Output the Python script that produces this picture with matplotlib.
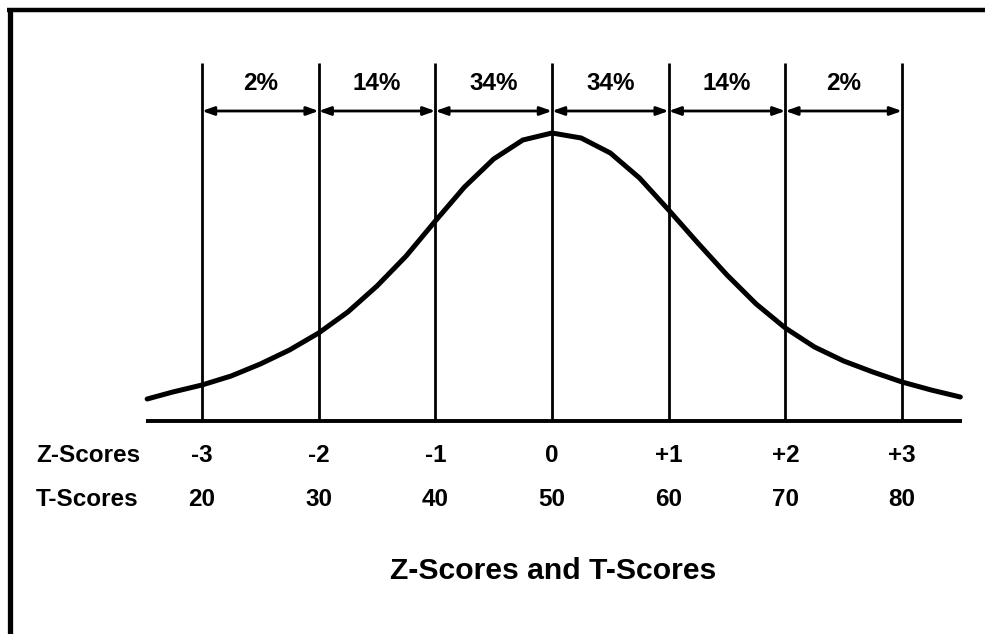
import matplotlib
matplotlib.use("Agg")
import matplotlib.pyplot as plt

# ---- data ----
z_scores = [-3, -2, -1, 0, 1, 2, 3]
z_labels = ["-3", "-2", "-1", "0", "+1", "+2", "+3"]
t_labels = ["20", "30", "40", "50", "60", "70", "80"]
percents = ["2%", "14%", "34%", "34%", "14%", "2%"]

# curve: z position and height above baseline (pixels)
curve_z = [-3.47, -3.25, -3.0, -2.75, -2.5, -2.25, -2.0, -1.75, -1.5, -1.25,
           -1.0, -0.75, -0.5, -0.25, 0.0, 0.25, 0.5, 0.75, 1.0, 1.25, 1.5,
           1.75, 2.0, 2.25, 2.5, 2.75, 3.0, 3.25, 3.5]
curve_h = [22, 29, 36, 45, 57, 71, 88, 109, 135, 165,
           200, 234, 262, 281, 288, 283, 268, 243, 211, 178, 146,
           117, 93, 74, 60, 49, 39, 31, 24]

# ---- layout ----
W, H = 985, 634
X0, SCALE = 552, 116.67   # pixel x of z=0, pixels per z
BASE = 421                # pixel y of baseline

def px(x):
    return (x - X0) / SCALE

def py(y):
    return BASE - y

fig = plt.figure(figsize=(W / 100, H / 100), dpi=100)
ax = fig.add_axes([0, 0, 1, 1])
ax.set_xlim(px(0), px(W))
ax.set_ylim(py(H), py(0))
ax.axis("off")

FONT = "Liberation Sans"

# frame (left and top)
ax.plot([px(9.5), px(9.5)], [py(H), py(10)], color="black", lw=3.8, solid_capstyle="butt")
ax.plot([px(7), px(W)], [py(10), py(10)], color="black", lw=3.2, solid_capstyle="butt")

# baseline
ax.plot([px(146), px(962)], [0, 0], color="black", lw=2.8, solid_capstyle="butt")

# vertical lines
for z in z_scores:
    ax.plot([z, z], [0, py(63)], color="black", lw=2.0, solid_capstyle="butt")

# curve
ax.plot(curve_z, curve_h, color="black", lw=3.6, solid_capstyle="round",
        solid_joinstyle="round")

# arrows and percent labels
arrow_y = py(111)
for i, p in enumerate(percents):
    a, b = z_scores[i], z_scores[i + 1]
    ax.annotate("", xy=(b, arrow_y), xytext=(a, arrow_y),
                arrowprops=dict(arrowstyle="<|-|>,head_length=0.7,head_width=0.25",
                                color="black", lw=2.0, shrinkA=0, shrinkB=0))
    ax.text((a + b) / 2, py(84), p, ha="center", va="center",
            fontsize=17.5, fontweight="bold", family=FONT)

# score rows
ax.text(px(36), py(456), "Z-Scores", ha="left", va="center",
        fontsize=17.5, fontweight="bold", family=FONT)
ax.text(px(36), py(499), "T-Scores", ha="left", va="center",
        fontsize=17.5, fontweight="bold", family=FONT)
for z, zl, tl in zip(z_scores, z_labels, t_labels):
    ax.text(z, py(456), zl, ha="center", va="center",
            fontsize=17.5, fontweight="bold", family=FONT)
    ax.text(z, py(499), tl, ha="center", va="center",
            fontsize=17.5, fontweight="bold", family=FONT)

# title
ax.text(px(553), py(571), "Z-Scores and T-Scores", ha="center", va="center",
        fontsize=21.7, fontweight="bold", family=FONT)

fig.savefig("out.png", dpi=100)
